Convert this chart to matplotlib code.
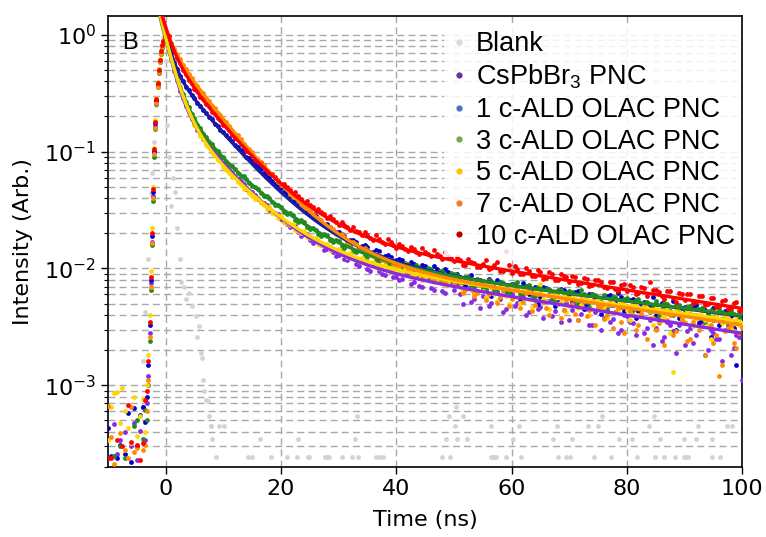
import numpy as np
import matplotlib
matplotlib.use("Agg")
import matplotlib.pyplot as plt
from matplotlib.lines import Line2D

# ---------------- data ----------------
# time bins (ns)
t_bins = np.concatenate([np.arange(-10, -3.4, 0.5), np.arange(-3.2, 0.01, 0.2),
                         np.arange(0.5, 10.01, 0.5), np.arange(11, 101, 1)])
t_bins = np.round(t_bins, 2)
t_half = np.arange(10.5, 100, 1.0)   # interleaved bins 10.5 ... 99.5

labels = ["CsPbBr$\\mathregular{_3}$ PNC", "1 c-ALD OLAC PNC", "3 c-ALD OLAC PNC",
          "5 c-ALD OLAC PNC", "7 c-ALD OLAC PNC", "10 c-ALD OLAC PNC"]

# normalised intensity in units of 1e-4 (0 = empty bin)
cspbbr3 = [2.4, 0, 4.7, 2.6, 3.4, 0, 4.0, 0, 3.0, 4.8, 2.3, 4.1, 6.5, 3.4,
           7, 12, 28, 75, 170, 420, 980, 1650, 2750, 3700, 5100, 6000, 7100, 7900, 8900, 9400, 10000,
           7620, 6150, 4850, 4080, 3320, 2890, 2440, 2190, 1890, 1750, 1540, 1430, 1290, 1220, 1090, 1050, 950, 915, 830, 800,
           690, 610, 560, 480, 450, 392, 365, 318, 300, 265,
           240, 231, 205, 198, 176, 172, 158, 146, 139, 131,
           120, 131, 110, 116, 99, 107, 96, 88, 95, 84,
           82, 92, 76, 71, 84, 68, 79, 64, 75, 66,
           61, 70, 52, 64, 58, 48, 63, 55, 45, 60,
           51, 57, 42, 54, 47, 53, 39, 50, 44, 36,
           49, 41, 45, 33, 46, 38, 35, 42, 30, 39,
           34, 40, 28, 36, 31, 24, 35, 29, 33, 22,
           31, 27, 34, 20, 28, 25, 30, 18, 27, 11]
ald1 = [4.3, 2.5, 0, 2.4, 3.1, 0, 2.6, 5.8, 2.2, 6.4, 3.0, 5.6, 6.5, 4.9,
        8, 15, 33, 80, 190, 450, 1020, 1750, 2700, 3850, 4900, 6100, 7000, 8000, 8800, 9500, 10000,
        8250, 6950, 5750, 5100, 4420, 4050, 3590, 3360, 3030, 2870, 2600, 2480, 2260, 2160, 1980, 1900, 1730, 1670, 1520, 1470,
        1300, 1140, 1030, 900, 830, 750, 660, 600, 530, 490,
        430, 400, 352, 335, 298, 281, 249, 238, 215, 206,
        190, 176, 170, 156, 152, 139, 140, 128, 126, 117,
        118, 104, 110, 97, 105, 92, 99, 86, 94, 83,
        84, 72, 88, 76, 69, 82, 70, 77, 64, 73,
        66, 75, 60, 70, 57, 68, 62, 52, 66, 58,
        63, 54, 49, 61, 56, 45, 59, 51, 57, 47,
        55, 43, 52, 48, 40, 51, 46, 53, 38, 47,
        44, 49, 36, 42, 46, 33, 43, 39, 15, 41]
ald3 = [0, 0, 2.5, 0, 3.0, 0, 2.4, 0, 0, 4.5, 5.0, 0, 3.5, 6.2,
        5, 10, 24, 65, 160, 380, 900, 1550, 2550, 3600, 4700, 5800, 6800, 7700, 8600, 9400, 10000,
        7400, 6150, 5000, 4290, 3560, 3140, 2660, 2400, 2080, 1920, 1690, 1580, 1410, 1340, 1200, 1160, 1040, 1010, 920, 895,
        775, 715, 620, 580, 505, 475, 418, 398, 350, 335,
        295, 287, 252, 248, 216, 215, 190, 192, 168, 171,
        150, 155, 138, 141, 126, 131, 116, 121, 107, 113,
        101, 109, 95, 103, 91, 99, 85, 95, 82, 90,
        75, 85, 72, 81, 68, 79, 66, 76, 64, 74,
        77, 62, 72, 58, 70, 67, 55, 66, 59, 64,
        54, 65, 52, 61, 50, 59, 49, 57, 47, 56,
        44, 55, 47, 42, 53, 45, 50, 40, 49, 43,
        48, 38, 46, 41, 36, 45, 39, 43, 34, 42]
ald5 = [3.4, 6.5, 8.6, 8.7, 4.8, 9.5, 6.0, 4.3, 3.2, 8.0, 3.7, 5.5, 7.6, 4.0,
        10, 18, 40, 95, 220, 500, 1080, 1850, 2850, 3950, 5100, 6150, 7200, 8100, 8900, 9500, 10000,
        7700, 6150, 5150, 4150, 3580, 2950, 2620, 2190, 2000, 1700, 1590, 1370, 1310, 1140, 1100, 970, 945, 840, 825, 735,
        655, 605, 520, 485, 420, 398, 348, 333, 290, 281,
        245, 240, 210, 208, 183, 181, 160, 163, 144, 147,
        130, 135, 119, 124, 109, 114, 101, 108, 94, 101,
        90, 97, 86, 93, 83, 88, 78, 86, 75, 81,
        69, 79, 66, 75, 64, 74, 61, 71, 58, 69,
        57, 68, 55, 66, 73, 53, 63, 50, 61, 48,
        59, 49, 57, 45, 55, 47, 54, 42, 52, 44,
        50, 40, 49, 43, 47, 38, 46, 13, 58, 35,
        44, 37, 43, 33, 42, 36, 40, 31, 39, 34]
ald7 = [6.6, 3.6, 2.1, 0, 3.9, 0, 2.8, 2.4, 6.5, 2.7, 2.9, 0, 2.8, 3.1,
        6, 11, 26, 70, 165, 400, 950, 1600, 2600, 3600, 4800, 5900, 6900, 7800, 8700, 9400, 10000,
        9800, 8450, 7600, 6700, 6150, 5480, 5100, 4580, 4300, 3880, 3670, 3330, 3150, 2870, 2730, 2480, 2370, 2150, 2060, 1870,
        1670, 1420, 1285, 1090, 985, 845, 765, 655, 600, 515,
        478, 410, 383, 332, 312, 272, 259, 227, 218, 193,
        187, 166, 163, 145, 144, 129, 130, 116, 119, 106,
        109, 98, 101, 90, 95, 84, 89, 78, 86, 75,
        77, 66, 75, 62, 73, 60, 70, 57, 68, 55,
        66, 52, 64, 49, 62, 46, 60, 58, 44, 56,
        41, 55, 39, 53, 47, 37, 51, 42, 35, 48,
        40, 33, 46, 38, 30, 44, 36, 27, 42, 34,
        25, 40, 32, 37, 23, 12, 29, 33, 21, 31]
ald10 = [2.4, 2.4, 0, 3.4, 0, 3.0, 0, 6.8, 3.3, 0, 3.1, 2.3, 3.2, 7.5,
         9, 16, 35, 85, 200, 480, 1050, 1800, 2800, 3900, 5000, 6100, 7200, 8100, 8900, 9500, 10000,
         9850, 8300, 7300, 6300, 5700, 5000, 4620, 4100, 3850, 3460, 3270, 2950, 2810, 2540, 2440, 2200, 2120, 1920, 1850, 1690,
         1520, 1300, 1190, 1020, 935, 810, 745, 650, 603, 528,
         495, 436, 414, 365, 352, 312, 302, 268, 263, 236,
         234, 212, 211, 192, 193, 176, 180, 162, 167, 151,
         156, 141, 148, 134, 139, 127, 133, 121, 127, 115,
         118, 108, 114, 103, 110, 99, 106, 96, 142, 92,
         99, 89, 96, 86, 93, 83, 90, 80, 87, 77,
         84, 75, 81, 72, 79, 69, 76, 67, 72, 64,
         70, 62, 68, 76, 66, 58, 64, 56, 62, 54,
         60, 52, 58, 50, 56, 48, 54, 46, 52, 44]

# interleaved bins (t = 10.5 ... 99.5), same units
cspbbr3_h = [745, 650, 580, 525, 460, 425, 372, 350, 305, 290,
             250, 226, 230, 190, 196, 165, 172, 145, 152, 128,
             140, 118, 124, 104, 115, 96, 106, 90, 99, 84,
             80, 93, 74, 87, 70, 82, 66, 78, 62, 75,
             72, 50, 68, 55, 46, 66, 51, 62, 42, 60,
             48, 59, 40, 55, 45, 38, 53, 43, 35, 51,
             44, 36, 50, 33, 42, 30, 45, 37, 28, 40,
             35, 27, 39, 31, 22, 37, 26, 33, 19, 35,
             29, 23, 35, 18, 30, 25, 16, 31, 21, 26]
ald1_h = [1400, 1230, 1100, 985, 880, 790, 705, 625, 560, 505,
          455, 398, 378, 333, 312, 280, 262, 236, 226, 204,
          196, 172, 175, 152, 158, 136, 143, 125, 131, 112,
          120, 100, 113, 95, 108, 90, 104, 82, 99, 80,
          90, 68, 84, 62, 79, 71, 58, 80, 66, 63,
          74, 55, 71, 63, 50, 69, 59, 48, 67, 56,
          52, 64, 45, 60, 55, 41, 58, 49, 62, 43,
          54, 38, 50, 45, 57, 36, 49, 42, 30, 46,
          40, 47, 34, 44, 26, 41, 37, 45, 31, 38]
ald3_h = [820, 760, 655, 615, 535, 500, 440, 418, 368, 350,
          305, 300, 262, 258, 226, 224, 198, 197, 176, 175,
          156, 160, 141, 146, 130, 134, 119, 125, 111, 114,
          104, 112, 97, 106, 91, 100, 86, 96, 83, 92,
          88, 76, 84, 70, 80, 67, 78, 64, 75, 62,
          73, 60, 71, 57, 69, 54, 67, 52, 65, 59,
          63, 50, 61, 47, 59, 52, 44, 57, 49, 55,
          45, 54, 41, 52, 48, 39, 51, 43, 49, 37,
          47, 40, 45, 35, 44, 39, 42, 33, 41, 38]
ald5_h = [690, 610, 545, 480, 438, 392, 360, 322, 300, 272,
          250, 236, 214, 203, 186, 178, 162, 158, 145, 141,
          133, 126, 124, 115, 113, 106, 105, 98, 99, 93,
          91, 98, 85, 92, 80, 89, 76, 86, 72, 83,
          80, 64, 78, 60, 73, 57, 70, 53, 68, 50,
          66, 51, 64, 47, 62, 55, 45, 59, 52, 42,
          57, 46, 55, 40, 53, 44, 38, 51, 43, 50,
          36, 48, 41, 46, 33, 44, 39, 28, 45, 37,
          43, 32, 40, 36, 25, 39, 34, 38, 29, 33]
ald7_h = [1800, 1510, 1380, 1160, 1060, 890, 820, 695, 640, 545,
          505, 430, 405, 346, 330, 283, 272, 236, 228, 199,
          196, 170, 169, 148, 150, 131, 134, 118, 121, 107,
          103, 110, 94, 100, 87, 95, 80, 90, 76, 85,
          80, 62, 76, 58, 72, 54, 69, 51, 66, 48,
          65, 46, 62, 43, 60, 52, 40, 57, 38, 54,
          50, 36, 53, 44, 33, 48, 40, 31, 46, 28,
          43, 30, 41, 25, 38, 34, 22, 40, 29, 36,
          24, 35, 30, 18, 33, 27, 15, 31, 23, 28]
ald10_h = [1640, 1390, 1270, 1085, 1000, 855, 795, 685, 640, 555,
           530, 470, 448, 392, 378, 335, 325, 290, 281, 252,
           250, 225, 226, 204, 207, 184, 192, 170, 178, 158,
           162, 148, 154, 139, 149, 133, 143, 128, 138, 123,
           125, 106, 121, 112, 103, 118, 100, 113, 95, 108,
           104, 90, 100, 86, 97, 82, 93, 79, 90, 84,
           87, 74, 83, 71, 80, 76, 68, 77, 64, 73,
           72, 61, 69, 58, 66, 63, 55, 64, 52, 60,
           61, 51, 58, 49, 56, 47, 53, 45, 51, 43]

# blank (IRF) points: time (ns), intensity (1e-4 units)
blank_t = [-4.0, -3.5, -3.0, -2.6, -2.3, -2.0, -1.6, -1.2, -0.8, -0.4, 0.0, 0.3, 0.6, 0.9, 1.2, 1.6, 2.0, 2.4,
           2.6, 3.1, 3.6, 4.0, 4.6, 5.2, 5.5, 5.7, 6.1, 6.3, 6.4, 6.6, 7.0, 7.3, 7.5, 7.8, 7.9, 8.0, 8.7, 9.2, 10.2,
           14.2, 15.0, 18.3, 21.1, 22.8, 24.6, 24.9, 27.6, 28.0, 28.3, 30.5, 32.3, 33.4, 36.5, 37.1, 37.7,
           48.0, 49.4, 56.5, 56.8, 57.1, 57.3, 59.0, 61.6, 68.0, 69.5, 70.1, 74.3, 77.3, 81.8, 84.9, 86.5,
           88.3, 89.9, 90.3, 90.6, 94.7, 96.2,
           16.3, 23.0, 32.9, 48.7, 50.6, 52.3, 60.3, 67.2, 70.5, 78.7, 80.8, 85.8, 89.9, 91.9, 94.8,
           50.1, 56.5, 61.3, 67.8, 73.2, 75.0, 83.9, 92.4, 97.3, 98.2,
           33.1, 49.2, 51.6, 75.7, 84.7, 50.3]
blank_y = [16, 42, 120, 440, 650, 1200, 2500, 5000, 8000, 9500, 6000, 1700, 900, 340, 600, 450, 220, 120,
           76, 69, 55, 62, 48, 39, 26, 32, 19, 17, 11, 8.9, 7.5, 7.3, 5.5, 4.5, 4.5, 3.45, 2.45, 4.5, 4.5,
           2.45, 2.45, 2.45, 2.45, 2.45, 2.45, 2.45, 2.45, 2.45, 2.45, 2.45, 2.45, 2.45, 2.45, 2.45, 2.45,
           2.45, 2.45, 2.45, 2.45, 2.45, 2.45, 2.45, 2.45, 2.45, 2.45, 2.45, 2.45, 2.45, 2.45, 2.45, 2.45,
           2.45, 2.45, 2.45, 2.45, 2.45, 2.45,
           3.45, 3.45, 3.45, 3.45, 3.45, 3.45, 3.45, 3.45, 3.45, 3.45, 3.45, 3.45, 3.45, 3.45, 3.45,
           4.5, 4.5, 4.5, 4.5, 4.5, 4.5, 4.5, 4.5, 4.5, 4.5,
           5.5, 5.5, 5.5, 5.5, 5.5, 6.5]

# tri-exponential fit parameters: amplitudes and lifetimes (ns)
fit_amp = [[0.70, 0.27, 0.0166], [0.50, 0.52, 0.0170], [0.65, 0.25, 0.0165],
           [0.71, 0.225, 0.0160], [0.35, 0.76, 0.0174], [0.50, 0.64, 0.0280]]
fit_tau = [[1.5, 7.0, 56], [1.2, 7.2, 68], [1.8, 8.0, 70],
           [1.8, 7.5, 66], [1.5, 6.8, 60], [1.5, 6.8, 55]]

# ---------------- styling ----------------
pt_colors = ["#8a2be2", "#0000cd", "#228b22", "#ffd700", "#ff8c00", "#ff0000"]
ln_colors = ["#8a2be2", "#1a1aa8", "#228b22", "#ffd700", "#ff8c00", "#ff0000"]
leg_colors = ["#d9d9d9", "#7030a0", "#4472c4", "#70ad47", "#ffc000", "#ed7d31", "#c00000"]

plt.rcParams['font.family'] = ['DejaVu Sans']
fig = plt.figure(figsize=(7.66, 5.37), dpi=100)
ax = fig.add_axes([0.141, 0.1304, 0.828, 0.840])

grid_kw = dict(color="#a8a8a8", linestyle=(0, (5, 3)), linewidth=1.0)
ax.set_yscale("log")
ax.grid(True, which="major", axis="both", **grid_kw)
ax.grid(True, which="minor", axis="y", **grid_kw)
ax.set_axisbelow(True)

bt = np.array(blank_t)
by = np.array(blank_y) * 1e-4
ax.scatter(bt, by, s=12, color="#d3d3d3", linewidths=0, zorder=2)

series = [cspbbr3, ald1, ald3, ald5, ald7, ald10]
series_h = [cspbbr3_h, ald1_h, ald3_h, ald5_h, ald7_h, ald10_h]
for vals, vals_h, c in zip(series, series_h, pt_colors):
    tt = np.concatenate([t_bins, t_half])
    v = np.concatenate([np.array(vals, dtype=float), np.array(vals_h, dtype=float)]) * 1e-4
    m = v > 0
    ax.scatter(tt[m], v[m], s=12, color=c, linewidths=0, zorder=3)

tf = np.linspace(-1.5, 100, 600)
for amps, taus, c in zip(fit_amp, fit_tau, ln_colors):
    yfit = sum(a * np.exp(-tf / tau) for a, tau in zip(amps, taus))
    ax.plot(tf, yfit, color=c, lw=2.4, zorder=4)

ax.set_xlim(-10, 100)
ax.set_ylim(2e-4, 1.45)
ax.set_xticks([0, 20, 40, 60, 80, 100])
ax.tick_params(axis="both", which="major", labelsize=16, length=5, width=1.0)
ax.tick_params(axis="y", which="minor", length=3, width=0.8)
for s in ax.spines.values():
    s.set_linewidth(1.2)

ax.set_xlabel("Time (ns)", fontsize=16)
ax.set_ylabel("Intensity (Arb.)", fontsize=16)
ax.xaxis.set_label_coords(0.5, -0.095)
ax.yaxis.set_label_coords(-0.118, 0.5)

ax.text(0.022, 0.965, "B", transform=ax.transAxes, ha="left", va="top",
        fontsize=17, family=["Liberation Sans", "DejaVu Sans"], zorder=6)

handles = [Line2D([], [], marker="o", ls="none", markersize=4.5, markeredgewidth=0,
                  color=c) for c in leg_colors]
leg = ax.legend(handles, ["Blank"] + labels, loc="upper right", bbox_to_anchor=(1.005, 0.99),
                prop={"family": ["Liberation Sans", "DejaVu Sans"], "size": 19.5},
                labelspacing=0.21, handlelength=0.6, handletextpad=0.3, borderpad=0.25,
                borderaxespad=0.15, frameon=True, framealpha=0.85, edgecolor="none",
                fancybox=False)
leg.set_zorder(7)

fig.savefig("out.png", dpi=100)
